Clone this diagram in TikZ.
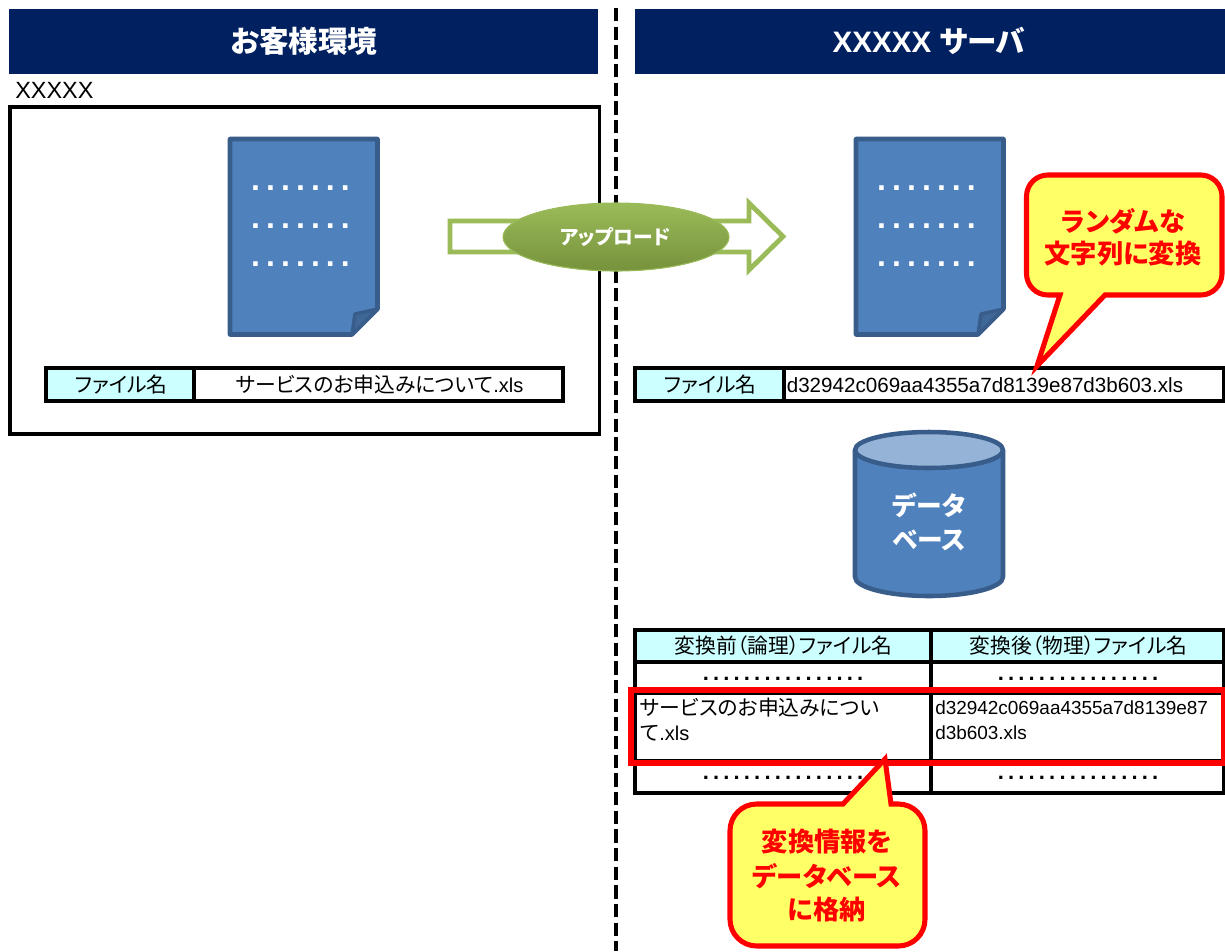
\documentclass[tikz,border=0pt]{standalone}
\usepackage{fontspec}
\setmainfont{Liberation Sans}
\newfontfamily\cj[RawFeature=+palt]{Noto Sans CJK JP}
\newfontfamily\dotf[LetterSpace=19]{Liberation Sans}
\newcommand{\fs}[1]{\fontsize{#1}{#1}\selectfont}
\newcommand{\xlsx}{{\fontspec{Liberation Sans}\fs{15}.xls}}
\definecolor{navy}{HTML}{002060}
\definecolor{cellc}{HTML}{CCFFFF}
\definecolor{docfill}{HTML}{4F81BD}
\definecolor{docline}{HTML}{385D8A}
\definecolor{docfold}{HTML}{3F6797}
\definecolor{cyltop}{HTML}{95B3D7}
\definecolor{grn}{HTML}{9BBB59}
\definecolor{grnd}{HTML}{76923C}
\definecolor{yel}{HTML}{FFFF66}
\tikzset{
 px/.style={x=0.75pt,y=-0.75pt},
 header/.style={fill=navy,draw=none},
 headtext/.style={text=white,font=\fs{22.2}\bfseries},
 frameline/.style={draw=black,line width=2.3pt},
 cell/.style={draw=black,line width=2.3pt},
 celltext/.style={font=\fs{15.6}\cj,text=black,inner sep=0pt},
 docshape/.style={fill=docfill,draw=docline,line width=3.4pt,line join=round},
 calloutshape/.style={fill=yel,draw=red,line width=3.8pt,line join=miter},
 callouttext/.style={font=\fs{19.7}\cj\bfseries,text=red,inner sep=0pt},
 dbtext/.style={font=\fs{19.3}\cj\bfseries,text=white,inner sep=0pt},
 dotsw/.style={font=\fs{24}\dotf\bfseries,text=white,anchor=base,inner sep=0pt},
 dotsk/.style={font=\fs{16.5}\dotf\bfseries,text=black,anchor=base,inner sep=0pt},
}
\begin{document}
\begin{tikzpicture}[px]
\useasboundingbox (0,0) rectangle (1225,951);
\fill[white] (0,0) rectangle (1225,951);
% headers
\path[header] (9,9) rectangle (598,74);
\path[header] (635,9) rectangle (1225,74);
\node[headtext] (h1) at (304,41) {\cj お客様環境};
\node[headtext] (h2) at (929,41) {XXXXX {\cj サーバ}};
% divider
\coordinate (divtop) at (616,8);
\coordinate (divbot) at (616,951);
\draw[black,line width=3.5pt,dash pattern=on 10pt off 4pt] (divtop) -- (divbot);
% client frame
\node[font=\fs{17.6},anchor=base west,inner sep=0pt] (xx) at (15,98.5) {XXXXX};
\draw[frameline] (10,107) rectangle (599.5,434);
% documents
\foreach \o/\n in {0/a,626/b}{
 \begin{scope}[xshift=\o*0.75pt]
  \draw[docshape] (230,139) -- (377.5,139) -- (377.5,309) -- (352,334.5) -- (230,334.5) -- cycle;
  \draw[docshape,fill=docfold,line width=2.6pt] (377.5,309) -- (355,314) -- (352,334.5) -- cycle;
  \foreach \y/\m in {190/1,228/2,266/3}
   \node[dotsw] (dots\n\m) at (300.5,\y) {.......};
 \end{scope}
}
% left file table
\draw[cell,fill=cellc] (46,368) rectangle (194,401);
\draw[cell] (194,368) rectangle (563,401);
\node[celltext] (lh) at (121,385) {ファイル名};
\node[celltext] (lv) at (379.5,385) {サービスのお申込みについて\xlsx};
% right file table
\draw[cell,fill=cellc] (635,368) rectangle (784,401);
\draw[cell] (784,368) rectangle (1224,401);
\node[celltext] (rh) at (710,385) {ファイル名};
\node[font=\fs{15.45},inner sep=0pt] (rv) at (985,385) {d32942c069aa4355a7d8139e87d3b603.xls};
% upload arrow
\draw[draw=grn,fill=white,line width=3.6pt,miter limit=10]
  (450,221) -- (749,221) -- (749,203) -- (783,236.5) -- (749,270) -- (749,252) -- (450,252) -- cycle;
\fill[top color=grn,bottom color=grnd,draw=grn,line width=0.8pt] (616,237) ellipse [x radius=113,y radius=34];
\node[font=\fs{14.8}\cj\bfseries,text=white,inner sep=0pt] (up) at (615,237) {アップロード};
% callout 1
\draw[calloutshape] (1060,295) [rounded corners=16pt] -- (1026.5,295) -- (1026.5,175) -- (1222,175) -- (1222,295) [sharp corners] -- (1105,295) -- (1037,366) -- cycle;
\node[callouttext] (c1a) at (1123,221) {ランダムな};
\node[callouttext] (c1b) at (1123,254) {文字列に変換};
% database
\draw[docshape] (855,450) -- (855,577) arc[start angle=180,end angle=0,x radius=74,y radius=19] -- (1003,450);
\draw[docshape,fill=cyltop] (929,450) ellipse [x radius=74,y radius=18];
\node[dbtext] (db1) at (929,505) {データ};
\node[dbtext] (db2) at (929,540) {ベース};
% mapping table
\draw[cell,fill=cellc] (635,630) rectangle (931,662);
\draw[cell,fill=cellc] (931,630) rectangle (1224,662);
\draw[cell] (635,662) rectangle (931,793);
\draw[cell] (931,662) rectangle (1224,793);
\draw[black,line width=1.5pt] (635,694) -- (1224,694);
\draw[black,line width=1.5pt] (635,760) -- (1224,760);
\node[celltext] (mh1) at (783.5,646) {変換前（論理）ファイル名};
\node[celltext] (mh2) at (1078.5,646) {変換後（物理）ファイル名};
\node[dotsk] (m1a) at (783,680) {................};
\node[dotsk] (m1b) at (1078,680) {................};
\node[dotsk] (m3a) at (783,779) {................};
\node[dotsk] (m3b) at (1078,779) {................};
\node[celltext,anchor=west] (m2a1) at (640,708) {サービスのお申込みについ};
\node[celltext,anchor=west] (m2a2) at (640,733) {て\xlsx};
\node[font=\fs{14.2},inner sep=0pt,anchor=west] (m2b1) at (935,708) {d32942c069aa4355a7d8139e87};
\node[font=\fs{14.2},inner sep=0pt,anchor=west] (m2b2) at (935,733) {d3b603.xls};
% highlight
\draw[draw=red,line width=3.9pt] (631,690) rectangle (1224,763);
% callout 2
\draw[calloutshape] (843,804) [rounded corners=20pt] -- (730,804) -- (730,946) -- (925,946) -- (925,804) [sharp corners] -- (891,804) -- (885,759) -- cycle;
\node[callouttext] (c2a) at (827,842) {変換情報を};
\node[callouttext] (c2b) at (827,876) {データベース};
\node[callouttext] (c2c) at (827,910) {に格納};
\end{tikzpicture}
\end{document}
